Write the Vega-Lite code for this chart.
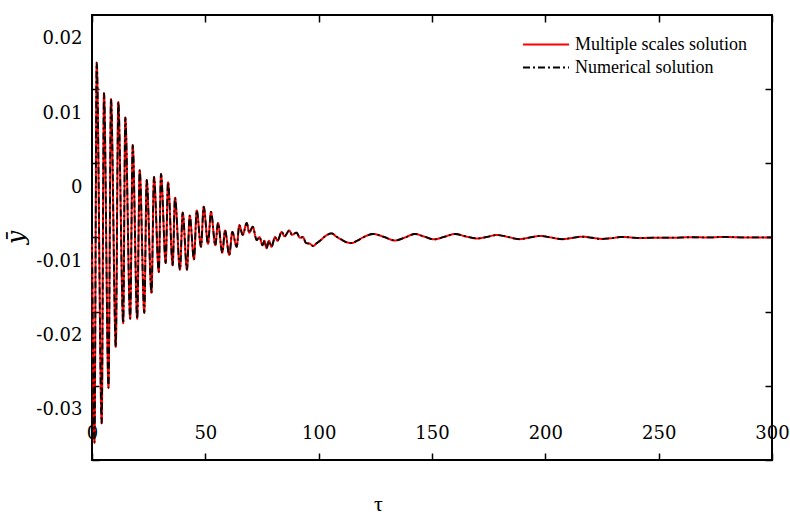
{
  "$schema": "https://vega.github.io/schema/vega-lite/v6.json",
  "width": 680,
  "height": 445,
  "autosize": "none",
  "padding": {"left": 92, "top": 15, "right": 18, "bottom": 57},
  "background": "white",
  "config": {
    "view": {"stroke": "black", "strokeWidth": 2},
    "axis": {"domain": false, "grid": false, "tickColor": "black", "tickSize": -7, "tickWidth": 1.5, "labelColor": "black", "labelFont": "DejaVu Serif", "labelFontSize": 18, "labelFlush": false, "labelOverlap": false}
  },
  "data": {"values": [
    {"tau": 0, "ms": -0.0067, "num": -0.0067},
    {"tau": 1.10, "ms": -0.0344, "num": -0.0344},
    {"tau": 2.07, "ms": 0.0168, "num": 0.0168},
    {"tau": 4.28, "ms": -0.0318, "num": -0.0318},
    {"tau": 5.29, "ms": 0.0127, "num": 0.0127},
    {"tau": 7.28, "ms": -0.0270, "num": -0.0270},
    {"tau": 8.38, "ms": 0.0119, "num": 0.0119},
    {"tau": 10.50, "ms": -0.0215, "num": -0.0215},
    {"tau": 11.60, "ms": 0.0115, "num": 0.0115},
    {"tau": 13.77, "ms": -0.0183, "num": -0.0183},
    {"tau": 14.69, "ms": 0.0094, "num": 0.0094},
    {"tau": 16.85, "ms": -0.0177, "num": -0.0177},
    {"tau": 17.96, "ms": 0.0057, "num": 0.0057},
    {"tau": 19.94, "ms": -0.0177, "num": -0.0177},
    {"tau": 21.04, "ms": 0.0023, "num": 0.0023},
    {"tau": 23.07, "ms": -0.0169, "num": -0.0169},
    {"tau": 24.13, "ms": 0.0010, "num": 0.0010},
    {"tau": 26.25, "ms": -0.0142, "num": -0.0142},
    {"tau": 27.35, "ms": 0.0014, "num": 0.0014},
    {"tau": 29.47, "ms": -0.0114, "num": -0.0114},
    {"tau": 30.44, "ms": 0.0018, "num": 0.0018},
    {"tau": 32.51, "ms": -0.0102, "num": -0.0102},
    {"tau": 33.53, "ms": 0.0007, "num": 0.0007},
    {"tau": 35.60, "ms": -0.0105, "num": -0.0105},
    {"tau": 36.62, "ms": -0.0014, "num": -0.0014},
    {"tau": 38.82, "ms": -0.0111, "num": -0.0111},
    {"tau": 40.01, "ms": -0.0034, "num": -0.0034},
    {"tau": 41.91, "ms": -0.0111, "num": -0.0111},
    {"tau": 43.10, "ms": -0.0038, "num": -0.0038},
    {"tau": 45.00, "ms": -0.0097, "num": -0.0097},
    {"tau": 46.19, "ms": -0.0031, "num": -0.0031},
    {"tau": 48.09, "ms": -0.0080, "num": -0.0080},
    {"tau": 49.28, "ms": -0.0026, "num": -0.0026},
    {"tau": 51.18, "ms": -0.0076, "num": -0.0076},
    {"tau": 52.50, "ms": -0.0033, "num": -0.0033},
    {"tau": 54.40, "ms": -0.0078, "num": -0.0078},
    {"tau": 55.59, "ms": -0.0048, "num": -0.0048},
    {"tau": 57.49, "ms": -0.0088, "num": -0.0088},
    {"tau": 58.68, "ms": -0.0058, "num": -0.0058},
    {"tau": 60.57, "ms": -0.0091, "num": -0.0091},
    {"tau": 61.90, "ms": -0.0060, "num": -0.0060},
    {"tau": 63.84, "ms": -0.0080, "num": -0.0080},
    {"tau": 64.99, "ms": -0.0051, "num": -0.0051},
    {"tau": 66.49, "ms": -0.0064, "num": -0.0064},
    {"tau": 68.25, "ms": -0.0048, "num": -0.0048},
    {"tau": 69.40, "ms": -0.0061, "num": -0.0061},
    {"tau": 70.90, "ms": -0.0053, "num": -0.0053},
    {"tau": 72.66, "ms": -0.0071, "num": -0.0071},
    {"tau": 73.90, "ms": -0.0067, "num": -0.0067},
    {"tau": 75.22, "ms": -0.0078, "num": -0.0078},
    {"tau": 76.10, "ms": -0.0072, "num": -0.0072},
    {"tau": 76.99, "ms": -0.0082, "num": -0.0082},
    {"tau": 78.09, "ms": -0.0072, "num": -0.0072},
    {"tau": 79.19, "ms": -0.0080, "num": -0.0080},
    {"tau": 80.74, "ms": -0.0067, "num": -0.0067},
    {"tau": 81.84, "ms": -0.0072, "num": -0.0072},
    {"tau": 83.69, "ms": -0.0060, "num": -0.0060},
    {"tau": 84.93, "ms": -0.0066, "num": -0.0066},
    {"tau": 87.04, "ms": -0.0058, "num": -0.0058},
    {"tau": 88.24, "ms": -0.0064, "num": -0.0064},
    {"tau": 90.22, "ms": -0.0061, "num": -0.0061},
    {"tau": 91.76, "ms": -0.0068, "num": -0.0068},
    {"tau": 93.09, "ms": -0.0067, "num": -0.0067},
    {"tau": 94.41, "ms": -0.0075, "num": -0.0075},
    {"tau": 96.18, "ms": -0.0076, "num": -0.0076},
    {"tau": 97.50, "ms": -0.0079, "num": -0.0079},
    {"tau": 98.82, "ms": -0.0076, "num": -0.0076},
    {"tau": 100.59, "ms": -0.0072, "num": -0.0072},
    {"tau": 102.79, "ms": -0.0066, "num": -0.0066},
    {"tau": 105.75, "ms": -0.0062, "num": -0.0062},
    {"tau": 107.65, "ms": -0.0066, "num": -0.0066},
    {"tau": 109.85, "ms": -0.0070, "num": -0.0070},
    {"tau": 112.37, "ms": -0.0074, "num": -0.0074},
    {"tau": 114.57, "ms": -0.0075, "num": -0.0075},
    {"tau": 116.91, "ms": -0.0072, "num": -0.0072},
    {"tau": 120.00, "ms": -0.00668, "num": -0.00668},
    {"tau": 124.10, "ms": -0.00628, "num": -0.00628},
    {"tau": 128.82, "ms": -0.00668, "num": -0.00668},
    {"tau": 133.68, "ms": -0.00716, "num": -0.00716},
    {"tau": 138.09, "ms": -0.00675, "num": -0.00675},
    {"tau": 142.50, "ms": -0.00628, "num": -0.00628},
    {"tau": 146.47, "ms": -0.00662, "num": -0.00662},
    {"tau": 150.88, "ms": -0.00700, "num": -0.00700},
    {"tau": 155.29, "ms": -0.00668, "num": -0.00668},
    {"tau": 160.15, "ms": -0.00628, "num": -0.00628},
    {"tau": 165.00, "ms": -0.00662, "num": -0.00662},
    {"tau": 169.85, "ms": -0.00689, "num": -0.00689},
    {"tau": 174.26, "ms": -0.00668, "num": -0.00668},
    {"tau": 178.54, "ms": -0.00642, "num": -0.00642},
    {"tau": 183.53, "ms": -0.00668, "num": -0.00668},
    {"tau": 188.38, "ms": -0.00698, "num": -0.00698},
    {"tau": 193.24, "ms": -0.00675, "num": -0.00675},
    {"tau": 197.65, "ms": -0.00655, "num": -0.00655},
    {"tau": 202.50, "ms": -0.00675, "num": -0.00675},
    {"tau": 207.35, "ms": -0.00698, "num": -0.00698},
    {"tau": 211.76, "ms": -0.00682, "num": -0.00682},
    {"tau": 216.18, "ms": -0.00664, "num": -0.00664},
    {"tau": 220.59, "ms": -0.00679, "num": -0.00679},
    {"tau": 225.00, "ms": -0.00695, "num": -0.00695},
    {"tau": 229.41, "ms": -0.00684, "num": -0.00684},
    {"tau": 233.82, "ms": -0.00668, "num": -0.00668},
    {"tau": 241.76, "ms": -0.00682, "num": -0.00682},
    {"tau": 248.82, "ms": -0.00678, "num": -0.00678},
    {"tau": 257.21, "ms": -0.00678, "num": -0.00678},
    {"tau": 263.82, "ms": -0.00672, "num": -0.00672},
    {"tau": 272.65, "ms": -0.00675, "num": -0.00675},
    {"tau": 278.38, "ms": -0.00668, "num": -0.00668},
    {"tau": 288.09, "ms": -0.00675, "num": -0.00675},
    {"tau": 300.00, "ms": -0.00675, "num": -0.00675}
  ]},
  "transform": [{"fold": ["ms", "num"], "as": ["series", "y"]}],
  "layer": [
    {
      "transform": [{"filter": "datum.series == 'ms'"}],
      "mark": {"type": "line", "interpolate": "monotone", "strokeWidth": 2},
      "encoding": {
        "x": {"field": "tau", "type": "quantitative",
          "scale": {"domain": [0, 300], "nice": false, "zero": false},
          "axis": {"orient": "bottom", "values": [0, 50, 100, 150, 200, 250, 300], "format": "d", "labelBaseline": "middle", "labelPadding": -20,
            "title": "τ", "titleFont": "Liberation Serif", "titleFontSize": 22, "titleFontWeight": "normal", "titleX": 286, "titleY": 50, "titleBaseline": "alphabetic", "titleAlign": "center", "titleColor": "black"}},
        "y": {"field": "y", "type": "quantitative",
          "scale": {"domain": [-0.03674, 0.02323], "nice": false, "zero": false},
          "axis": {"orient": "left", "values": [0.02, 0.01, 0, -0.01, -0.02, -0.03], "tickOffset": 50, "labelOffset": -50, "labelPadding": 17,
            "labelExpr": "datum.value == 0 ? '0' : (datum.value < 0 ? '-' : '') + format(abs(datum.value), '.2f')",
            "title": "ȳ", "titleFont": "DejaVu Serif", "titleFontSize": 24, "titleFontStyle": "italic", "titleFontWeight": "normal", "titleAngle": 270, "titleX": -76, "titleY": 222, "titleBaseline": "middle", "titleAlign": "center", "titleColor": "black"}},
        "color": {"field": "series", "type": "nominal", "scale": {"domain": ["ms", "num"], "range": ["#ff0000", "#000000"]},
          "legend": {"orient": "none", "legendX": 430, "legendY": 18, "title": null, "symbolType": "stroke", "symbolSize": 2116, "symbolStrokeWidth": 2, "labelFont": "Liberation Serif", "labelFontSize": 18, "labelColor": "black", "labelOffset": 5, "rowPadding": 0, "clipHeight": 23, "padding": 0, "labelLimit": 300,
            "labelExpr": "datum.label == 'ms' ? 'Multiple scales solution' : 'Numerical solution'"}},
        "strokeDash": {"field": "series", "type": "nominal", "scale": {"domain": ["ms", "num"], "range": [[1, 0], [7, 3, 2, 3]]},
          "legend": {"orient": "none", "legendX": 430, "legendY": 18, "title": null, "symbolType": "stroke", "symbolSize": 2116, "symbolStrokeWidth": 2, "labelFont": "Liberation Serif", "labelFontSize": 18, "labelColor": "black", "labelOffset": 5, "rowPadding": 0, "clipHeight": 23, "padding": 0, "labelLimit": 300,
            "labelExpr": "datum.label == 'ms' ? 'Multiple scales solution' : 'Numerical solution'"}}
      }
    },
    {
      "transform": [{"filter": "datum.series == 'num'"}],
      "mark": {"type": "line", "interpolate": "monotone", "strokeWidth": 1.8},
      "encoding": {
        "x": {"field": "tau", "type": "quantitative",
          "axis": {"orient": "top", "values": [0, 50, 100, 150, 200, 250, 300], "labels": false, "title": null}},
        "y": {"field": "y", "type": "quantitative",
          "axis": {"orient": "right", "values": [0.02, 0.01, 0, -0.01, -0.02, -0.03], "tickOffset": 50, "labels": false, "title": null}},
        "color": {"field": "series", "type": "nominal"},
        "strokeDash": {"field": "series", "type": "nominal"}
      }
    }
  ],
  "resolve": {"axis": {"x": "independent", "y": "independent"}}
}
